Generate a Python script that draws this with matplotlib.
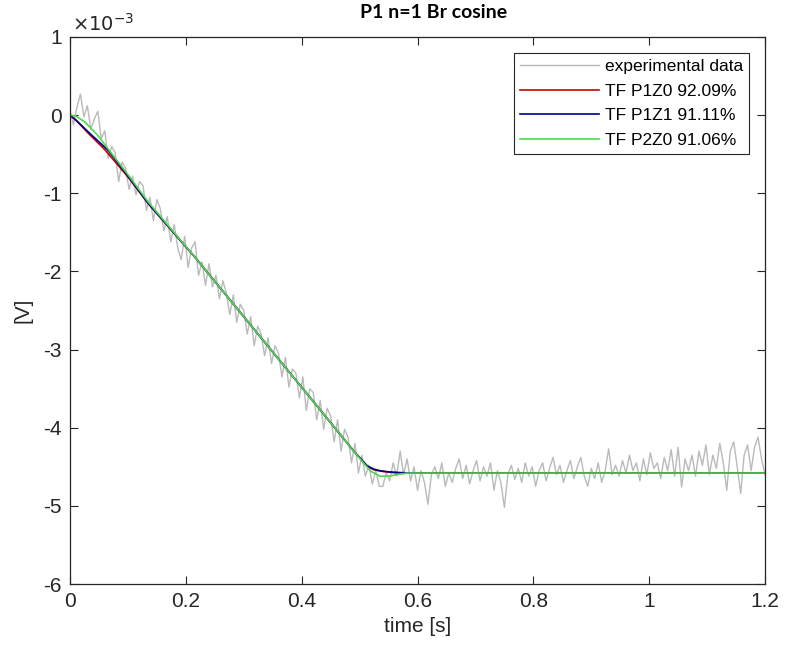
import numpy as np
import matplotlib
matplotlib.use("Agg")
import matplotlib.pyplot as plt

plt.rcParams["font.family"] = ["Liberation Sans", "DejaVu Sans"]
plt.rcParams["axes.unicode_minus"] = False

# experimental data, sampled every 6 ms, values in units of 1e-3 V
t_exp = np.linspace(0, 1.2, 201)
v_exp = [
    0.05, -0.12, 0.10, 0.27, -0.02, 0.12, -0.18, -0.05, 0.05, -0.30,
    -0.20, -0.55, -0.40, -0.48, -0.85, -0.60, -0.68, -0.95, -0.78, -1.02,
    -0.85, -0.90, -1.22, -1.05, -1.35, -1.08, -1.20, -1.48, -1.30, -1.62,
    -1.40, -1.70, -1.85, -1.55, -1.95, -1.70, -1.62, -2.05, -1.88, -2.18,
    -1.90, -2.20, -2.05, -2.35, -2.12, -2.28, -2.55, -2.30, -2.65, -2.42,
    -2.50, -2.80, -2.58, -2.95, -2.70, -2.80, -3.08, -2.85, -3.18, -2.95,
    -3.05, -3.35, -3.10, -3.48, -3.25, -3.30, -3.62, -3.35, -3.78, -3.50,
    -3.55, -3.90, -3.65, -4.02, -3.75, -3.85, -4.18, -3.90, -4.30, -4.02,
    -4.12, -4.45, -4.20, -4.58, -4.35, -4.62, -4.48, -4.72, -4.55, -4.75,
    -4.75, -4.58, -4.68, -4.45, -4.62, -4.30, -4.60, -4.40, -4.68, -4.50,
    -4.80, -4.55, -4.70, -4.98, -4.60, -4.50, -4.65, -4.45, -4.75, -4.58,
    -4.70, -4.52, -4.40, -4.65, -4.48, -4.72, -4.55, -4.42, -4.68, -4.50,
    -4.62, -4.45, -4.80, -4.55, -4.70, -5.02, -4.60, -4.48, -4.66, -4.52,
    -4.70, -4.45, -4.62, -4.50, -4.75, -4.55, -4.45, -4.68, -4.52, -4.38,
    -4.60, -4.48, -4.70, -4.55, -4.42, -4.65, -4.50, -4.38, -4.62, -4.75,
    -4.52, -4.65, -4.45, -4.70, -4.55, -4.27, -4.60, -4.48, -4.62, -4.42,
    -4.58, -4.35, -4.55, -4.45, -4.68, -4.40, -4.60, -4.32, -4.52, -4.45,
    -4.65, -4.38, -4.55, -4.28, -4.62, -4.25, -4.76, -4.40, -4.55, -4.35,
    -4.62, -4.30, -4.48, -4.22, -4.60, -4.35, -4.52, -4.20, -4.45, -4.80,
    -4.30, -4.18, -4.50, -4.84, -4.35, -4.22, -4.55, -4.25, -4.12, -4.40,
    -4.60,
]

# fitted transfer function responses (units of 1e-3 V)
t_p1z0 = [0, 0.010, 0.030, 0.060, 0.100, 0.135, 0.216, 0.423, 0.490, 0.505, 0.515, 0.525, 0.540, 0.560, 0.600, 1.2]
v_p1z0 = [0, -0.06, -0.22, -0.44, -0.79, -1.13, -1.82, -3.69, -4.30, -4.43, -4.50, -4.54, -4.56, -4.575, -4.58, -4.58]

t_p1z1 = [0, 0.014, 0.038, 0.066, 0.100, 0.135, 0.216, 0.423, 0.490, 0.505, 0.513, 0.525, 0.535, 0.550, 0.570, 0.600, 1.2]
v_p1z1 = [0, -0.09, -0.26, -0.45, -0.78, -1.13, -1.82, -3.69, -4.30, -4.42, -4.49, -4.53, -4.55, -4.565, -4.575, -4.58, -4.58]

t_p2z0 = [0, 0.010, 0.026, 0.048, 0.078, 0.100, 0.135, 0.216, 0.423, 0.490, 0.509, 0.520, 0.535, 0.550, 0.565, 0.582, 1.2]
v_p2z0 = [0, -0.01, -0.09, -0.26, -0.55, -0.76, -1.11, -1.82, -3.69, -4.30, -4.47, -4.56, -4.62, -4.62, -4.60, -4.58, -4.58]

labels = ["experimental data", "TF P1Z0 92.09%", "TF P1Z1 91.11%", "TF P2Z0 91.06%"]
xticks = [0, 0.2, 0.4, 0.6, 0.8, 1.0, 1.2]
xticklabels = ["0", "0.2", "0.4", "0.6", "0.8", "1", "1.2"]
yticks = [-6, -5, -4, -3, -2, -1, 0, 1]

fig = plt.figure(figsize=(7.85, 6.57), dpi=100)
ax = fig.add_axes([70 / 785, 1 - 584 / 657, 695 / 785, 547 / 657])

ax.plot(t_exp, np.array(v_exp) * 1e-3, color=(0.73, 0.73, 0.73), lw=1.0, label=labels[0])
ax.plot(t_p1z0, np.array(v_p1z0) * 1e-3, color=(0.8, 0.0, 0.0), lw=1.2, label=labels[1])
ax.plot(t_p1z1, np.array(v_p1z1) * 1e-3, color=(0.0, 0.0, 0.55), lw=1.2, label=labels[2])
ax.plot(t_p2z0, np.array(v_p2z0) * 1e-3, color=(0.3, 0.85, 0.3), lw=1.2, label=labels[3])

ax.set_xlim(0, 1.2)
ax.set_ylim(-6e-3, 1e-3)
ax.set_xticks(xticks)
ax.set_xticklabels(xticklabels)
ax.set_yticks(np.array(yticks) * 1e-3)
ax.set_yticklabels([str(v) for v in yticks])
ax.text(0.003, 1.004, r"$\times10^{-3}$", transform=ax.transAxes, fontsize=14,
        ha="left", va="bottom", color="#262626")

ax.tick_params(direction="in", length=6, width=0.8, top=True, right=True, labelsize=15, pad=6,
               colors="#262626")
for s in ax.spines.values():
    s.set_linewidth(0.9)
    s.set_color("#262626")

ax.set_xlabel("time [s]", fontsize=15, labelpad=4, color="#262626")
ax.set_ylabel("[V]", fontsize=15, labelpad=8, color="#262626")
fig.text(434 / 785, 1 - 12 / 657, "P1 n=1 Br cosine", ha="center", va="center",
         fontsize=14, fontweight="bold", family=["Lato", "DejaVu Sans"])

leg = ax.legend(loc="upper right", fontsize=12.5, handlelength=4.6, handletextpad=0.3,
                labelspacing=0.55, borderpad=0.35, borderaxespad=0, fancybox=False,
                framealpha=1, bbox_to_anchor=(0.977, 0.971))
leg.get_frame().set_edgecolor("#262626")
leg.get_frame().set_linewidth(0.8)

fig.savefig("out.png", dpi=100)
